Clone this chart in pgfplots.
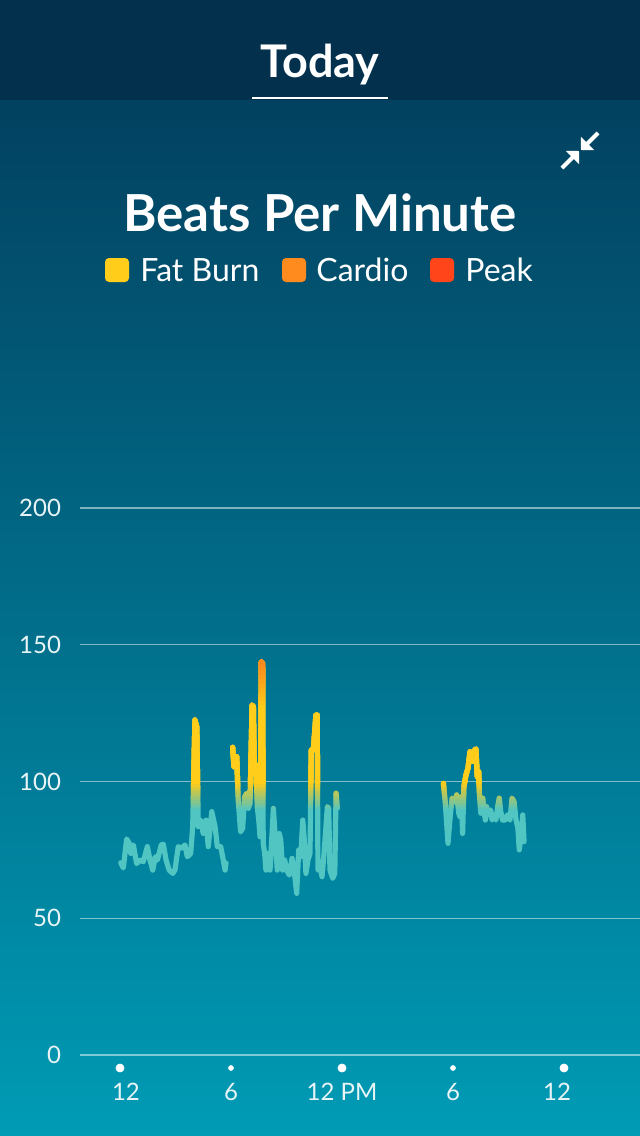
\documentclass[border=0pt]{standalone}
\usepackage{fontspec}
\setmainfont{Lato}
\usepackage{pgfplots}
\pgfplotsset{compat=1.18}
\usepackage{pgfplotstable}
\usetikzlibrary{arrows.meta}

\definecolor{hdr}{HTML}{02304D}
\definecolor{bgtop}{HTML}{024160}
\definecolor{bgbot}{HTML}{009BB5}
\definecolor{hrteal}{HTML}{50C5C2}
\definecolor{hryellow}{HTML}{FFCD1A}
\definecolor{hrorange}{HTML}{FF8A1E}
\definecolor{hrred}{HTML}{FF4519}
\definecolor{ticktxt}{HTML}{E8F4F6}

% heart rate, x in hours after midnight, y in bpm
\pgfplotstableread{
x y
0.04 70.3
0.18 68.4
0.36 79.0
0.50 77.4
0.58 73.7
0.72 76.8
0.90 70.0
1.08 71.3
1.26 70.7
1.48 76.2
1.62 71.3
1.77 67.6
1.91 72.5
2.02 71.3
2.23 76.8
2.34 77.1
2.49 71.3
2.66 67.6
2.85 66.4
2.97 67.6
3.15 76.2
3.34 75.6
3.51 76.8
3.64 72.5
3.82 73.7
3.93 83.5
4.05 122.5
4.15 120.0
4.23 83.5
4.36 85.9
4.50 81.0
4.65 85.9
4.77 76.2
4.96 89.0
5.14 83.5
5.26 76.2
5.44 76.2
5.55 72.5
5.68 67.6
5.73 70.2
nan nan
6.09 112.5
6.16 105.4
6.31 109.1
6.39 93.2
6.52 81.6
6.63 82.9
6.74 94.4
6.85 95.7
6.94 90.2
7.03 92.0
7.14 128.0
7.21 127.4
7.26 105.4
7.35 106.0
7.42 90.8
7.50 85.9
7.57 79.8
7.64 143.8
7.71 143.2
7.74 77.4
7.82 73.7
7.89 67.6
8.00 73.7
8.11 67.6
8.22 81.0
8.29 90.2
8.40 78.6
8.50 67.6
8.61 81.0
8.69 78.6
8.79 67.6
8.90 71.3
9.01 67.6
9.15 65.8
9.30 71.9
9.41 67.6
9.55 59.1
9.66 75.0
9.77 72.5
9.88 85.9
9.95 79.8
10.05 66.4
10.16 71.3
10.27 73.7
10.34 111.5
10.45 111.5
10.59 124.3
10.66 124.3
10.70 67.6
10.81 68.9
10.92 65.2
11.03 73.7
11.21 90.8
11.28 90.2
11.35 67.6
11.50 64.6
11.61 66.4
11.68 95.7
11.75 90.2
nan nan
17.48 99.3
17.58 92.6
17.73 77.4
17.84 86.5
17.95 93.9
18.09 92.6
18.20 95.1
18.31 88.4
18.38 87.1
18.45 94.4
18.52 81.0
18.59 98.1
18.70 102.4
18.81 104.8
18.92 110.9
18.99 107.9
19.06 107.3
19.17 111.5
19.24 111.9
19.31 101.8
19.39 103.6
19.42 96.3
19.50 88.4
19.61 93.9
19.68 89.0
19.75 85.9
19.82 90.8
19.92 87.8
20.04 89.6
20.11 85.9
20.22 87.8
20.32 85.9
20.43 91.4
20.50 93.9
20.58 89.0
20.68 85.9
20.83 85.9
20.94 87.8
21.08 85.9
21.19 93.9
21.30 92.6
21.41 85.9
21.51 82.9
21.58 75.0
21.69 80.4
21.77 87.8
21.84 78.0
}\hrdata

\pgfplotsset{
  hrbase/.style={scale only axis, width=280pt, xmin=-2.162, xmax=28.108,
    anchor=south west, unbounded coords=jump},
  hrline/.style={line width=2.6pt, line join=round, line cap=round, no marks},
}

% same series redrawn above a given bpm (clipped by that axis box)
\newcommand\hrlayer[3]{%
  \pgfmathsetmacro\hrh{(#2-#1)*1.3675}%
  \pgfmathsetmacro\hry{-527.5+#1*1.3675}%
  \begin{axis}[hrbase, hide axis, ymin=#1, ymax=#2, height=\hrh pt, at={(40pt,\hry pt)}]
    \addplot[hrline, #3] table {\hrdata};
  \end{axis}}

\begin{document}
\begin{tikzpicture}
\useasboundingbox (0,0) rectangle (320pt,-568pt);
\fill[hdr] (0,0) rectangle (320pt,-50pt);
\shade[top color=bgtop, bottom color=bgbot] (0,-50pt) rectangle (320pt,-568pt);

\node[anchor=base, white, font=\fontsize{22.5}{26}\selectfont\bfseries] at (160pt,-38.5pt) {Today};
\draw[white, line width=1pt] (126pt,-49pt) -- (194pt,-49pt);

% collapse icon
\draw[white, line width=2pt, -{Triangle[angle=90:6.5pt]}] (299pt,-66.5pt) -- (290.5pt,-75pt);
\draw[white, line width=2pt, -{Triangle[angle=90:6.5pt]}] (281pt,-84pt) -- (289.5pt,-75.5pt);

\node[anchor=base, white, font=\fontsize{25.5}{30}\selectfont\bfseries] at (160pt,-115.5pt) {Beats Per Minute};

\fill[hryellow, rounded corners=2pt] (52.5pt,-129pt) rectangle (64.5pt,-141pt);
\node[anchor=base west, inner sep=0, white, font=\fontsize{16}{19}\selectfont] at (70pt,-140.5pt) {Fat Burn};
\fill[hrorange, rounded corners=2pt] (141pt,-129pt) rectangle (153pt,-141pt);
\node[anchor=base west, inner sep=0, white, font=\fontsize{16}{19}\selectfont] at (158pt,-140.5pt) {Cardio};
\fill[hrred, rounded corners=2pt] (215pt,-129pt) rectangle (227pt,-141pt);
\node[anchor=base west, inner sep=0, white, font=\fontsize{16}{19}\selectfont] at (232.5pt,-140.5pt) {Peak};

\begin{axis}[hrbase, height=273.5pt, at={(40pt,-527.5pt)},
  ymin=0, ymax=200, clip=false,
  axis line style={draw=none}, tick style={draw=none},
  ytick={0,50,...,200}, xtick={0,6,12,18,24},
  xticklabels={\hspace*{6pt}12,6,12 PM,6,12\hspace*{7pt}},
  ymajorgrids, grid style={white, opacity=0.5, line width=0.6pt},
  /pgf/number format/assume math mode=true,
  tick label style={ticktxt, font=\fontsize{12}{14}\selectfont},
  yticklabel style={anchor=east, xshift=-6pt},
  xticklabel style={anchor=center, yshift=-18.5pt},
]
  \addplot[hrline, hrteal] table {\hrdata};
  \addplot[only marks, mark=*, mark size=2pt, white, yshift=-6.5pt] coordinates {(0,0) (12,0) (24,0)};
  \addplot[only marks, mark=*, mark size=1.2pt, white, yshift=-6.5pt] coordinates {(6,0) (18,0)};
\end{axis}

% teal -> yellow between 90 and 100 bpm, yellow -> orange between 128 and 144 bpm
\foreach \k in {1,...,12}{%
  \pgfmathsetmacro\lo{90+(\k-1)*10/12}%
  \pgfmathsetmacro\op{1/(13-\k)}%
  \hrlayer{\lo}{200}{hryellow, opacity=\op}}
\foreach \k in {1,...,10}{%
  \pgfmathsetmacro\lo{128+(\k-1)*1.6}%
  \pgfmathsetmacro\op{1/(11-\k)}%
  \hrlayer{\lo}{200}{hrorange, opacity=\op}}
\end{tikzpicture}
\end{document}
